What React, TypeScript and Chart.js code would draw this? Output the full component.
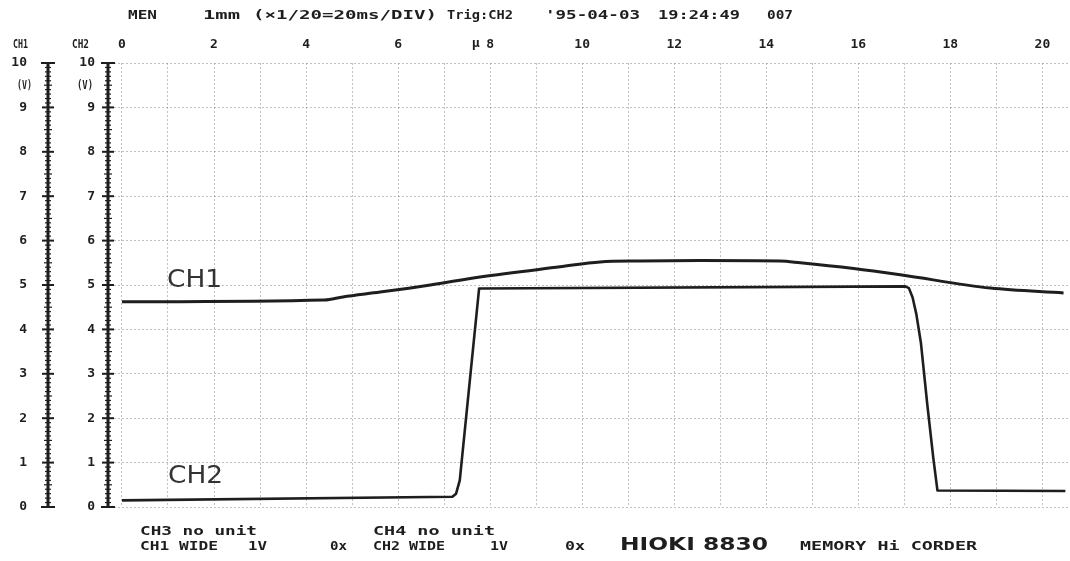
import React, { useEffect, useRef } from "react";
import { Chart, registerables } from "chart.js";

Chart.register(...registerables);

// ---- data ----
const xTickValues = [0, 1, 2, 3, 4, 5, 6, 7, 8, 9, 10, 11, 12, 13, 14, 15, 16, 17, 18, 19, 20];
const xTickLabels = ["0", "", "2", "", "4", "", "6", "", "8", "", "10", "", "12", "", "14", "", "16", "", "18", "", "20"];
const yTickValues = [0, 1, 2, 3, 4, 5, 6, 7, 8, 9, 10];
const yTickLabels = ["0", "1", "2", "3", "4", "5", "6", "7", "8", "9", "10"];

const ch1Time = [0, 4.4, 4.8, 5.61, 6.7, 7.78, 9.52, 10.39, 11.26, 12.57, 14.3, 14.74, 15.9, 16.91, 18.87, 20.46];
const ch1Volts = [4.62, 4.66, 4.73, 4.84, 5.0, 5.18, 5.41, 5.52, 5.54, 5.55, 5.54, 5.5, 5.37, 5.23, 4.93, 4.82];

const ch2Time = [0, 7.18, 7.26, 7.34, 7.76, 17.02, 17.1, 17.18, 17.26, 17.36, 17.5, 17.63, 17.72, 20.5];
const ch2Volts = [0.15, 0.23, 0.3, 0.6, 4.92, 4.97, 4.93, 4.72, 4.35, 3.7, 2.3, 1.1, 0.37, 0.36];

const headerTexts = ["MEN", "1mm", "(×1/20=20ms/DIV)", "Trig:CH2", "'95-04-03", "19:24:49", "007"];
const footerRow1 = ["CH3 no unit", "CH4 no unit"];
const footerRow2 = ["CH1 WIDE", "1V", "0x", "CH2 WIDE", "1V", "0x"];
const brandText = "HIOKI 8830";
const modelText = "MEMORY Hi CORDER";
const axisTitles = ["CH1", "CH2"];
const unitText = "(V)";
const curveLabels = ["CH1", "CH2"];
const triggerMark = "µ";

const INK = "#1e1e1e";
const MONO = '"DejaVu Sans Mono", "Liberation Mono", monospace';

function fitText(ctx: CanvasRenderingContext2D, text: string, x: number, y: number, width: number, font: string) {
  ctx.font = font;
  const w = ctx.measureText(text).width || 1;
  ctx.save();
  ctx.translate(x, y);
  ctx.scale(width / w, 1);
  ctx.fillText(text, 0, 0);
  ctx.restore();
}

const decorPlugin = {
  id: "decor",
  afterDraw(chart: any) {
    const ctx: CanvasRenderingContext2D = chart.ctx;
    const xs = chart.scales.x;
    const y1 = chart.scales.y;
    const y2 = chart.scales.y2;
    ctx.save();
    ctx.strokeStyle = INK;
    ctx.fillStyle = INK;

    // left scales with dense ticks
    [y1, y2].forEach((s: any) => {
      const lx = s.right - 2;
      const top = s.getPixelForValue(10);
      const bot = s.getPixelForValue(0);
      ctx.lineWidth = 3;
      ctx.beginPath();
      ctx.moveTo(lx, top);
      ctx.lineTo(lx, bot);
      ctx.stroke();
      for (let i = 0; i <= 100; i++) {
        const py = s.getPixelForValue(i / 10);
        const major = i % 10 === 0;
        const end = i === 0 || i === 100;
        const half = end ? 7 : major ? 6 : i % 5 === 0 ? 4 : 3;
        ctx.lineWidth = major ? 2 : 1.2;
        ctx.beginPath();
        ctx.moveTo(lx - half, py);
        ctx.lineTo(lx + half, py);
        ctx.stroke();
      }
    });

    ctx.textBaseline = "middle";
    ctx.textAlign = "left";

    // axis titles
    fitText(ctx, axisTitles[0], 13, 45, 15, `bold 12px ${MONO}`);
    fitText(ctx, axisTitles[1], 72, 45, 17, `bold 12px ${MONO}`);
    fitText(ctx, unitText, 17, 86, 15, `bold 13px ${MONO}`);
    fitText(ctx, unitText, 77, 86, 16, `bold 13px ${MONO}`);

    // header line
    const hx = [128, 203, 253, 447, 545, 658, 767];
    const hw = [29, 37, 184, 66, 95, 82, 26];
    headerTexts.forEach((t, i) => fitText(ctx, t, hx[i], 16, hw[i], `bold 13px ${MONO}`));

    // trigger mark
    fitText(ctx, triggerMark, xs.getPixelForValue(7.6), 44, 8, `bold 13px ${MONO}`);

    // curve labels
    ctx.fillStyle = "#333";
    ctx.textBaseline = "alphabetic";
    fitText(ctx, curveLabels[0], xs.getPixelForValue(0.98), y1.getPixelForValue(4.95), 55, `24px "DejaVu Sans", sans-serif`);
    fitText(ctx, curveLabels[1], xs.getPixelForValue(1.0), y2.getPixelForValue(0.54), 55, `24px "DejaVu Sans", sans-serif`);

    // footer
    ctx.fillStyle = INK;
    ctx.textBaseline = "middle";
    fitText(ctx, footerRow1[0], 140, 532, 117, `bold 12px ${MONO}`);
    fitText(ctx, footerRow1[1], 373, 532, 122, `bold 12px ${MONO}`);
    const fx = [140, 248, 330, 373, 490, 565];
    const fw = [78, 19, 17, 72, 18, 20];
    footerRow2.forEach((t, i) => fitText(ctx, t, fx[i], 547, fw[i], `bold 12px ${MONO}`));
    fitText(ctx, brandText, 620, 546, 148, `bold 17px "DejaVu Sans", sans-serif`);
    fitText(ctx, modelText, 800, 547, 177, `bold 12px ${MONO}`);

    ctx.restore();
  },
};

export default function App() {
  const canvasRef = useRef<HTMLCanvasElement | null>(null);

  useEffect(() => {
    if (!canvasRef.current) return;
    const ch1 = ch1Time.map((t, i) => ({ x: t, y: ch1Volts[i] }));
    const ch2 = ch2Time.map((t, i) => ({ x: t, y: ch2Volts[i] }));
    const gridColor = "rgba(115,115,115,0.45)";

    const chart = new Chart(canvasRef.current, {
      type: "line",
      data: {
        datasets: [
          {
            label: "CH1",
            data: ch1,
            yAxisID: "y",
            borderColor: INK,
            borderWidth: 3,
            pointRadius: 0,
            cubicInterpolationMode: "monotone",
            fill: false,
          },
          {
            label: "CH2",
            data: ch2,
            yAxisID: "y2",
            borderColor: INK,
            borderWidth: 2.6,
            pointRadius: 0,
            tension: 0,
            borderJoinStyle: "round",
            fill: false,
          },
        ],
      },
      options: {
        responsive: false,
        animation: false,
        devicePixelRatio: 1,
        layout: { padding: { left: 0, right: 0, top: 0, bottom: 54 } },
        plugins: {
          legend: { display: false },
          tooltip: { enabled: false },
          title: { display: false },
        },
        scales: {
          x: {
            type: "linear",
            position: "top",
            min: -0.26,
            max: 20.6,
            afterBuildTicks: (s: any) => {
              s.ticks = xTickValues.map((v) => ({ value: v }));
            },
            afterFit: (s: any) => {
              s.height = 63;
            },
            ticks: {
              autoSkip: false,
              maxRotation: 0,
              minRotation: 0,
              padding: 11,
              color: INK,
              font: { family: MONO, size: 13, weight: "bold" },
              callback: (_v: any, i: number) => xTickLabels[i] ?? "",
            },
            grid: { display: true, drawTicks: false, color: gridColor, lineWidth: 1 },
            border: { display: false, dash: [2, 2] },
          },
          y: {
            type: "linear",
            position: "left",
            weight: 1,
            min: 0,
            max: 10,
            afterBuildTicks: (s: any) => {
              s.ticks = yTickValues.map((v) => ({ value: v }));
            },
            afterFit: (s: any) => {
              s.width = 50;
            },
            ticks: {
              padding: 15,
              color: INK,
              font: { family: MONO, size: 13, weight: "bold" },
              callback: (_v: any, i: number) => yTickLabels[i] ?? "",
            },
            grid: { display: false },
            border: { display: false },
          },
          y2: {
            type: "linear",
            position: "left",
            weight: 0,
            min: 0,
            max: 10,
            afterBuildTicks: (s: any) => {
              s.ticks = yTickValues.map((v) => ({ value: v }));
            },
            afterFit: (s: any) => {
              s.width = 60;
            },
            ticks: {
              padding: 15,
              color: INK,
              font: { family: MONO, size: 13, weight: "bold" },
              callback: (_v: any, i: number) => yTickLabels[i] ?? "",
            },
            grid: { display: true, drawTicks: false, drawOnChartArea: true, color: gridColor, lineWidth: 1 },
            border: { display: false, dash: [2, 2] },
          },
        },
      },
      plugins: [decorPlugin],
    } as any);

    return () => chart.destroy();
  }, []);

  return (
    <div style={{ position: "fixed", left: 0, top: 0, width: 1070, height: 561, background: "#fff" }}>
      <canvas ref={canvasRef} width={1070} height={561} style={{ display: "block" }} />
    </div>
  );
}
